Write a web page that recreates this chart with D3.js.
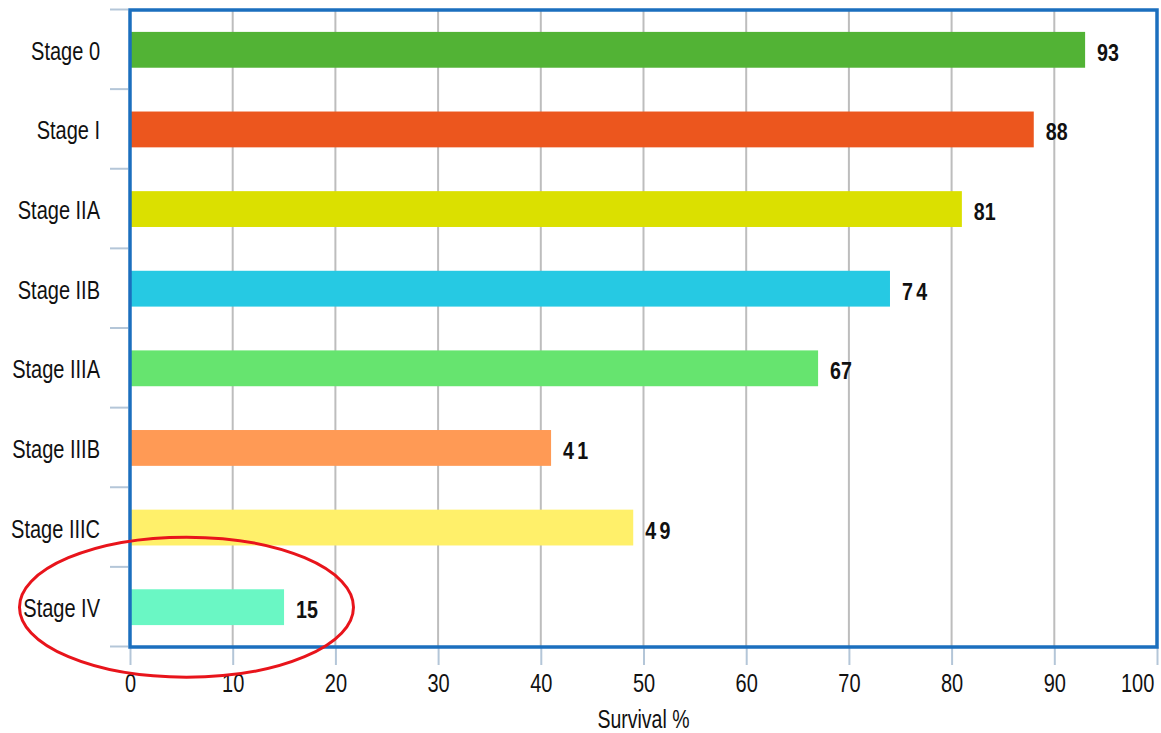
<!DOCTYPE html>
<html>
<head>
<meta charset="utf-8">
<script src="https://cdn.jsdelivr.net/npm/d3@7"></script>
<style>
  html, body { margin: 0; padding: 0; background: #fff; }
  svg { display: block; }
  text { font-family: "Liberation Sans", Arial, sans-serif; fill: #111; }
</style>
</head>
<body>
<svg id="chart" width="1161" height="733"></svg>
<script>
const categories = ["Stage 0", "Stage I", "Stage IIA", "Stage IIB", "Stage IIIA", "Stage IIIB", "Stage IIIC", "Stage IV"];
const values = [93, 88, 81, 74, 67, 41, 49, 15];
const colors = ["#52b335", "#ec561e", "#dbe000", "#26c9e3", "#66e46f", "#ff9a55", "#fff06a", "#6af7c4"];
const xTicks = [0, 10, 20, 30, 40, 50, 60, 70, 80, 90, 100];
const xTitle = "Survival %";
const highlighted = "Stage IV";

(function () {
const svg = d3.select("#chart");
const mLeft = 130, mRight = 1157, mTop = 10, mBottom = 647;
const sx = 0.8; // narrow font emulation

const x = d3.scaleLinear().domain([0, 100]).range([mLeft, mRight]);
const y = d3.scaleBand().domain(categories).range([mTop, mBottom]).paddingInner(0.55).paddingOuter(0.275);

// gridlines
svg.append("g").selectAll("line").data(xTicks.filter(t => t > 0 && t < 100)).join("line")
  .attr("x1", d => x(d)).attr("x2", d => x(d))
  .attr("y1", mTop).attr("y2", mBottom)
  .attr("stroke", "#bdbdbd").attr("stroke-width", 2);

// x axis ticks below frame
const xAxis = d3.axisBottom(x).tickValues(xTicks).tickSize(18).tickPadding(8).tickFormat(d3.format("d"));
const gx = svg.append("g").attr("transform", `translate(0,${mBottom})`).call(xAxis);
gx.select(".domain").remove();
gx.selectAll(".tick line").attr("stroke", "#b4c6d8").attr("stroke-width", 2);
gx.selectAll(".tick text")
  .attr("font-size", 25).attr("fill", "#111").attr("y", 45).attr("dy", 0)
  .attr("transform", `scale(${sx},1)`)
  .style("font-family", '"Liberation Sans", Arial, sans-serif');
gx.selectAll(".tick text").filter(d => d === 100).attr("text-anchor", "end").attr("x", -4);

// y axis ticks at category boundaries
const boundaries = d3.range(categories.length + 1).map(i => mTop + i * y.step() - 0.5);
svg.append("g").selectAll("line").data(boundaries).join("line")
  .attr("x1", 110).attr("x2", mLeft - 2)
  .attr("y1", d => d).attr("y2", d => d)
  .attr("stroke", "#b4c6d8").attr("stroke-width", 2);

// y labels
svg.append("g").selectAll("text").data(categories).join("text")
  .attr("transform", d => `translate(100,${y(d) + y.bandwidth() / 2 + 10}) scale(${sx},1)`)
  .attr("text-anchor", "end").attr("font-size", 25)
  .text(d => d);

// bars
svg.append("g").selectAll("rect").data(categories).join("rect")
  .attr("x", x(0)).attr("y", d => y(d))
  .attr("width", (d, i) => x(values[i]) - x(0))
  .attr("height", y.bandwidth())
  .attr("fill", (d, i) => colors[i]);

// value labels
svg.append("g").selectAll("text").data(categories).join("text")
  .attr("transform", (d, i) => `translate(${x(values[i]) + 12},${y(d) + y.bandwidth() / 2 + 11}) scale(0.82,1)`)
  .attr("font-size", 24).attr("font-weight", "bold")
  .attr("letter-spacing", (d, i) => [74, 41, 49].includes(values[i]) ? 4 : 0)
  .text((d, i) => values[i]);

// frame
svg.append("rect")
  .attr("x", mLeft).attr("y", mTop)
  .attr("width", mRight - mLeft).attr("height", mBottom - mTop)
  .attr("fill", "none").attr("stroke", "#1b6fbe").attr("stroke-width", 3.5);

// axis title
svg.append("text")
  .attr("transform", `translate(${(mLeft + mRight) / 2},728) scale(0.78,1)`)
  .attr("text-anchor", "middle").attr("font-size", 25)
  .text(xTitle);

// highlight ellipse
svg.append("ellipse")
  .attr("cx", x(5.5)).attr("cy", y(highlighted) + y.bandwidth() / 2)
  .attr("rx", 167).attr("ry", 70)
  .attr("fill", "none").attr("stroke", "#e8141b").attr("stroke-width", 3);
})();
</script>
</body>
</html>
